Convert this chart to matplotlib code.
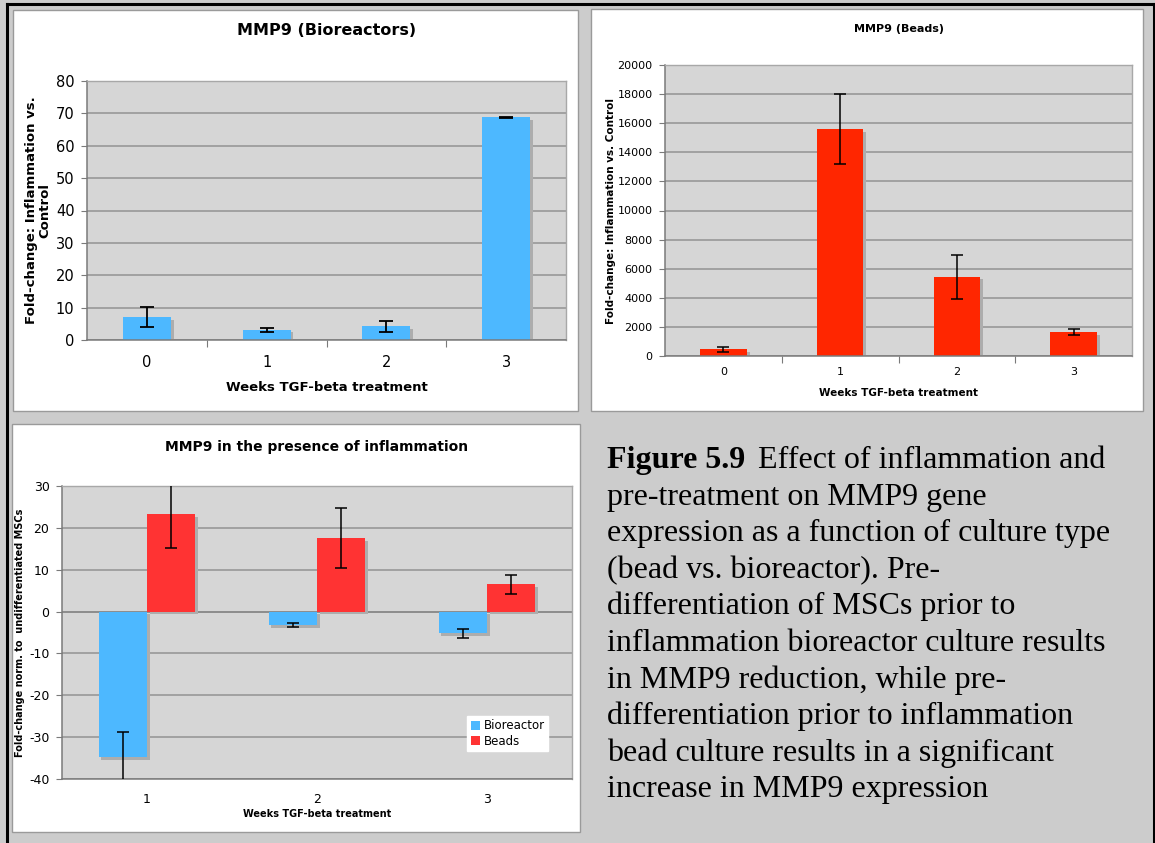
import matplotlib
matplotlib.use("Agg")
import matplotlib.pyplot as plt
import matplotlib.patheffects as pe
from matplotlib.patches import Rectangle, Patch
from matplotlib.lines import Line2D
import numpy as np

plt.rcParams["axes.unicode_minus"] = False

# ---- data ----
weeks_all = ["0", "1", "2", "3"]
bioreactor_fold = [7.1, 3.2, 4.2, 68.8]
bioreactor_err = [3.1, 0.65, 1.7, 0.1]

beads_fold = [450, 15600, 5450, 1650]
beads_err = [150, 2430, 1510, 180]

weeks_pre = ["1", "2", "3"]
norm_bioreactor = [-34.8, -3.3, -5.2]
norm_bioreactor_err = [6.0, 0.5, 1.1]
norm_beads = [23.2, 17.5, 6.5]
norm_beads_err = [8.0, 7.2, 2.3]
series_names = ["Bioreactor", "Beads"]

caption_lines = [
    "pre-treatment on MMP9 gene",
    "expression as a function of culture type",
    "(bead vs. bioreactor). Pre-",
    "differentiation of MSCs prior to",
    "inflammation bioreactor culture results",
    "in MMP9 reduction, while pre-",
    "differentiation prior to inflammation",
    "bead culture results in a significant",
    "increase in MMP9 expression",
]

# ---- styling ----
W, H = 1155, 843
FIG_BG = "#cccccc"
PLOT_BG = "#d6d6d6"
GRID = "#939393"
BLUE = "#4db8ff"
RED_BEADS = "#ff2600"
RED_NORM = "#ff3333"
SHADOW = pe.SimplePatchShadow(offset=(2.0, -2.0), shadow_rgbFace="#adadad", alpha=1.0)

fig = plt.figure(figsize=(W / 100, H / 100), dpi=100, facecolor=FIG_BG)


def fx(px):
    return px / W


def fy(py):
    return 1 - py / H


def panel(x0, y0, x1, y1):
    fig.patches.append(Rectangle((fx(x0), fy(y1)), fx(x1 - x0), (y1 - y0) / H,
                                 transform=fig.transFigure, facecolor="white",
                                 edgecolor="#9a9a9a", lw=1.0, zorder=-5))


def make_axes(x0, y0, x1, y1):
    ax = fig.add_axes([fx(x0), fy(y1), fx(x1 - x0), (y1 - y0) / H])
    ax.set_facecolor(PLOT_BG)
    ax.set_axisbelow(True)
    ax.yaxis.grid(True, color=GRID, lw=1.1)
    for s in ("top", "right"):
        ax.spines[s].set_color("#a8a8a8")
        ax.spines[s].set_linewidth(1.0)
    for s in ("left", "bottom"):
        ax.spines[s].set_color("#7a7a7a")
        ax.spines[s].set_linewidth(1.1)
    ax.tick_params(axis="y", length=4, color="#7a7a7a", pad=5)
    return ax


def category_axis(ax, labels, fontsize, pad):
    n = len(labels)
    ax.set_xlim(-0.5, n - 0.5)
    ax.set_xticks(np.arange(0.5, n - 0.5, 1.0))
    ax.set_xticklabels([])
    ax.tick_params(axis="x", which="major", length=5, color="#7a7a7a")
    ax.set_xticks(np.arange(n), minor=True)
    ax.set_xticklabels(labels, minor=True, fontsize=fontsize)
    ax.tick_params(axis="x", which="minor", length=0, pad=pad)


# outer frame
fig.add_artist(Line2D([fx(7), fx(1154)], [fy(4), fy(4)], transform=fig.transFigure, color="black", lw=2.2))
fig.add_artist(Line2D([fx(7), fx(7)], [fy(4), fy(843)], transform=fig.transFigure, color="black", lw=2.2))
fig.add_artist(Line2D([fx(1154), fx(1154)], [fy(4), fy(843)], transform=fig.transFigure, color="black", lw=2.2))

panel(13, 10, 578, 411)
panel(591, 9, 1143, 411)
panel(12, 424, 580, 832)

# ---- MMP9 (Bioreactors) ----
ax1 = make_axes(87, 81, 566, 340)
x = np.arange(len(weeks_all))
bars = ax1.bar(x, bioreactor_fold, width=0.4, color=BLUE, zorder=2)
for b in bars:
    b.set_path_effects([SHADOW, pe.Normal()])
ax1.errorbar(x, bioreactor_fold, yerr=bioreactor_err, fmt="none", ecolor="black",
             elinewidth=1.3, capsize=5, capthick=1.3, zorder=3)
ax1.set_ylim(0, 80)
ax1.set_yticks(np.arange(0, 81, 10))
ax1.tick_params(axis="y", labelsize=10.5)
category_axis(ax1, weeks_all, 10.5, 11)
ax1.set_xlabel("Weeks TGF-beta treatment", fontsize=9.5, fontweight="bold", labelpad=8)
ax1.set_ylabel("Fold-change: Inflammation vs.\nControl", fontsize=9.5, fontweight="bold",
               labelpad=3, linespacing=1.05)
ax1.set_title("MMP9 (Bioreactors)", fontsize=11.5, fontweight="bold", pad=33)

# ---- MMP9 (Beads) ----
ax2 = make_axes(665, 65, 1132, 356)
bars = ax2.bar(x, beads_fold, width=0.4, color=RED_BEADS, zorder=2)
for b in bars:
    b.set_path_effects([SHADOW, pe.Normal()])
ax2.errorbar(x, beads_fold, yerr=beads_err, fmt="none", ecolor="black",
             elinewidth=1.1, capsize=4, capthick=1.1, zorder=3)
ax2.set_ylim(0, 20000)
ax2.set_yticks(np.arange(0, 20001, 2000))
ax2.tick_params(axis="y", labelsize=8)
category_axis(ax2, weeks_all, 8, 8)
ax2.set_xlabel("Weeks TGF-beta treatment", fontsize=7.5, fontweight="bold", labelpad=8)
ax2.set_ylabel("Fold-change: Inflammation vs. Control", fontsize=7.5, fontweight="bold", labelpad=1)
ax2.set_title("MMP9 (Beads)", fontsize=8, fontweight="bold", pad=24)

# ---- MMP9 in the presence of inflammation ----
ax3 = make_axes(62, 486, 572, 779)
x3 = np.arange(len(weeks_pre))
bw = 0.285
b1 = ax3.bar(x3 - bw / 2, norm_bioreactor, width=bw, color=BLUE, zorder=2)
b2 = ax3.bar(x3 + bw / 2, norm_beads, width=bw, color=RED_NORM, zorder=2)
for b in list(b1) + list(b2):
    b.set_path_effects([SHADOW, pe.Normal()])
ax3.errorbar(x3 - bw / 2, norm_bioreactor, yerr=norm_bioreactor_err, fmt="none", ecolor="black",
             elinewidth=1.1, capsize=4, capthick=1.1, zorder=3)
ax3.errorbar(x3 + bw / 2, norm_beads, yerr=norm_beads_err, fmt="none", ecolor="black",
             elinewidth=1.1, capsize=4, capthick=1.1, zorder=3)
ax3.axhline(0, color="#8a8a8a", lw=1.2, zorder=1.5)
ax3.set_ylim(-40, 30)
ax3.set_yticks(np.arange(-40, 31, 10))
ax3.tick_params(axis="y", labelsize=9)
category_axis(ax3, weeks_pre, 9, 10)
ax3.tick_params(axis="x", which="major", length=0)
ax3.set_xlabel("Weeks TGF-beta treatment", fontsize=7, fontweight="bold", labelpad=2)
ax3.set_ylabel("Fold-change norm. to  undifferentiated MSCs", fontsize=7, fontweight="bold", labelpad=3)
ax3.set_title("MMP9 in the presence of inflammation", fontsize=10, fontweight="bold", pad=25)
handles = [Patch(facecolor=BLUE, edgecolor="none"), Patch(facecolor=RED_NORM, edgecolor="none")]
ax3.legend(handles, series_names, loc="lower right", bbox_to_anchor=(0.965, 0.075), fontsize=8.5,
           frameon=True, fancybox=False, framealpha=1, edgecolor="white", handlelength=0.8,
           handleheight=0.8, handletextpad=0.3, borderpad=0.3, labelspacing=0.2)

# ---- caption ----
serif = ["Liberation Serif", "DejaVu Serif"]
fs = 23
t = fig.text(fx(607), fy(468), "Figure 5.9", fontsize=fs, fontweight="bold", family=serif, va="baseline")
fig.canvas.draw()
bb = t.get_window_extent()
fig.text(bb.x1 / W + fx(13), fy(468), "Effect of inflammation and", fontsize=fs, family=serif, va="baseline")
for i, line in enumerate(caption_lines):
    fig.text(fx(607), fy(468 + 36.6 * (i + 1)), line, fontsize=fs, family=serif, va="baseline")

fig.savefig("out.png", dpi=100, facecolor=FIG_BG)
